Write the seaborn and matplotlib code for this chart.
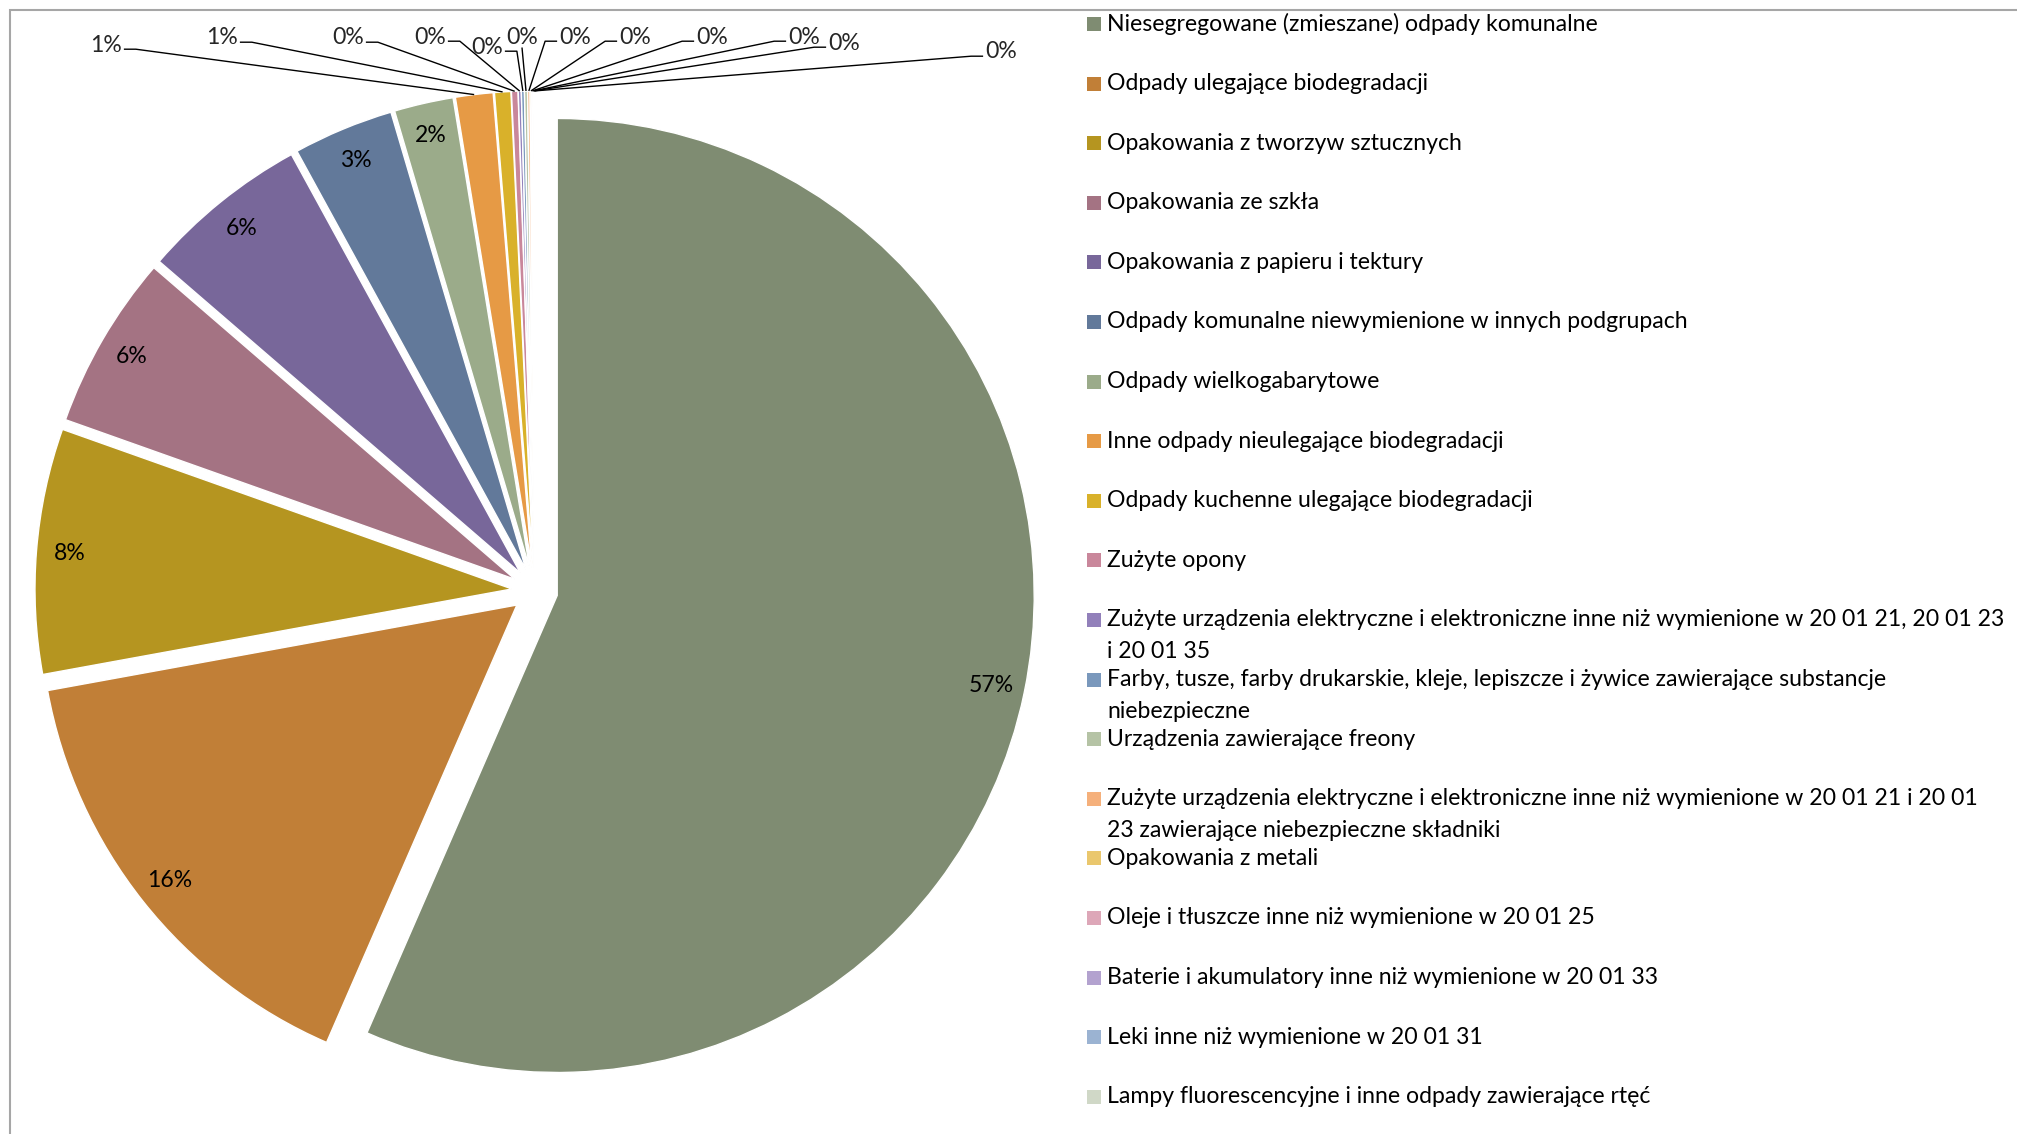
import matplotlib
matplotlib.use("Agg")
import numpy as np
import matplotlib.pyplot as plt
import seaborn as sns
from matplotlib.patches import Rectangle

# ---------------- dane ----------------
kategorie = [
    "Niesegregowane (zmieszane) odpady komunalne",
    "Odpady ulegające biodegradacji",
    "Opakowania z tworzyw sztucznych",
    "Opakowania ze szkła",
    "Opakowania z papieru i tektury",
    "Odpady komunalne niewymienione w innych podgrupach",
    "Odpady wielkogabarytowe",
    "Inne odpady nieulegające biodegradacji",
    "Odpady kuchenne ulegające biodegradacji",
    "Zużyte opony",
    "Zużyte urządzenia elektryczne i elektroniczne inne niż wymienione w 20 01 21, 20 01 23\ni 20 01 35",
    "Farby, tusze, farby drukarskie, kleje, lepiszcze i żywice zawierające substancje\nniebezpieczne",
    "Urządzenia zawierające freony",
    "Zużyte urządzenia elektryczne i elektroniczne inne niż wymienione w 20 01 21 i 20 01\n23 zawierające niebezpieczne składniki",
    "Opakowania z metali",
    "Oleje i tłuszcze inne niż wymienione w 20 01 25",
    "Baterie i akumulatory inne niż wymienione w 20 01 33",
    "Leki inne niż wymienione w 20 01 31",
    "Lampy fluorescencyjne i inne odpady zawierające rtęć",
]

udzial = [56.53, 15.6, 8.3, 5.9, 5.7, 3.4, 2.0, 1.27, 0.55, 0.22,
          0.1, 0.1, 0.1, 0.08, 0.05, 0.04, 0.03, 0.02, 0.01]

kolory = [
    "#7f8c72", "#c17f37", "#b59520", "#a47383", "#78679a",
    "#62799a", "#9bab8a", "#e69a45", "#d9b12a", "#c9879b",
    "#9280ba", "#7a98bc", "#b5c3a5", "#f5b07b", "#eac76d",
    "#dda7b8", "#b3a2cf", "#9bb3d2", "#d0d8c7",
]

# ---------------- układ (piksele) ----------------
W, H = 2017, 1134
CX, CY, R = 534.8, 590.8, 477.0
FS = 16.6

# etykiety małych wycinków (od wycinka nr 7)
male_od = 7
etyk_x = [106, 222, 348, 430, 487, 522, 575, 635, 712, 804, 844, 1001]
etyk_y = [45, 38, 38, 37, 47, 37, 37, 37, 37, 37, 43, 52]

sns.set_theme(style="white")
plt.rcParams['font.family'] = ['Lato', 'DejaVu Sans']

fig = plt.figure(figsize=(W / 100, H / 100), dpi=100)
ax = fig.add_axes([0, 0, 1, 1])


def px2data(px, py):
    return ((px - CX) / R, (CY - py) / R)


wedges, teksty, procenty = ax.pie(
    udzial,
    colors=kolory,
    startangle=90,
    counterclock=False,
    explode=[0.048] * len(udzial),
    autopct=lambda p: f'{p:.0f}%' if p >= 1.5 else '',
    pctdistance=0.93,
    wedgeprops=dict(edgecolor='white', linewidth=1),
    textprops=dict(fontsize=FS, color='black'),
)

ax.set_aspect('auto')
ax.set_xlim(-CX / R, (W - CX) / R)
ax.set_ylim(-(H - CY) / R, CY / R)
ax.axis('off')

# etykiety małych wycinków z liniami odniesienia
male = []
for k, (ex, ey) in enumerate(zip(etyk_x, etyk_y)):
    w = wedges[male_od + k]
    pct = udzial[male_od + k] / sum(udzial) * 100
    x, y = px2data(ex, ey)
    t = ax.text(x, y, f'{pct:.0f}%', ha='center', va='center', fontsize=FS)
    male.append((t, w))

fig.canvas.draw()
renderer = fig.canvas.get_renderer()
inv = ax.transData.inverted()
for t, w in male:
    kat = np.deg2rad((w.theta1 + w.theta2) / 2)
    cel = (w.center[0] + w.r * np.cos(kat), w.center[1] + w.r * np.sin(kat))
    cx, cy = ax.transData.transform(cel)
    bb = t.get_window_extent(renderer)
    yl = bb.y0 + 0.3 * bb.height
    if cx > bb.x1 + 6:
        pts = [(bb.x1 + 2, yl), (bb.x1 + 14, yl), (cx, cy)]
    elif cx < bb.x0 - 6:
        pts = [(bb.x0 - 2, yl), (bb.x0 - 14, yl), (cx, cy)]
    else:
        pts = [((bb.x0 + bb.x1) / 2, bb.y0), (cx, cy)]
    d = inv.transform(pts)
    ax.plot(d[:, 0], d[:, 1], color='black', lw=1.0, solid_capstyle='butt')

# legenda
for i, (nazwa, kol) in enumerate(zip(kategorie, kolory)):
    yc = 24 + 59.6 * i
    fig.patches.append(Rectangle((1087 / W, 1 - (yc + 7) / H), 14 / W, 14 / H,
                                 transform=fig.transFigure, facecolor=kol,
                                 edgecolor='none'))
    for j, linia in enumerate(nazwa.split('\n')):
        fig.text(1107 / W, 1 - (yc + 31.5 * j) / H, linia,
                 ha='left', va='center', fontsize=FS, color='black')

# ramka wykresu
fig.patches.append(Rectangle((10 / W, -0.1), 1.2, 1.1 - 10 / H,
                             transform=fig.transFigure, facecolor='none',
                             edgecolor='#a6a6a6', lw=1.5))

fig.savefig("out.png", dpi=100)
